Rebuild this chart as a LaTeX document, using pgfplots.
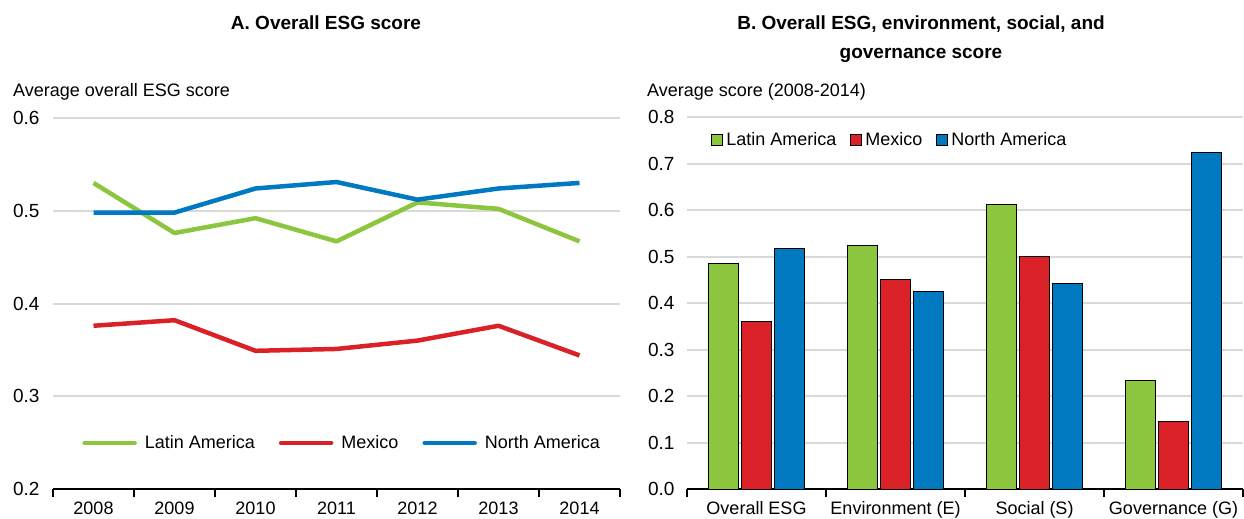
\documentclass[border=0pt]{standalone}
\usepackage{fontspec}
\setmainfont{Liberation Sans}
\usepackage{pgfplots}
\pgfplotsset{compat=1.18}
\definecolor{cgreen}{HTML}{8CC63F}
\definecolor{cred}{HTML}{DA2128}
\definecolor{cblue}{HTML}{0079C1}
\definecolor{cgrid}{HTML}{D9D9D9}
\pgfplotsset{
  sqlegend/.style={legend image code/.code={\draw[##1,/tikz/.cd,draw=black,line width=1pt] (0pt,-5.5pt) rectangle (11pt,5.5pt);}},
}
\begin{document}
\begin{tikzpicture}
\path[use as bounding box] (0,0) rectangle (1244pt,-519pt);
% Panel A
\begin{axis}[
  at={(53pt,-489pt)}, anchor=south west,
  scale only axis, width=567pt, height=371pt,
  xmin=-0.5, xmax=6.5, ymin=0.2, ymax=0.6,
  axis x line*=bottom, axis y line*=left,
  y axis line style={draw=none},
  x axis line style={black, line width=2pt, -},
  xtick={0,1,2,3,4,5,6}, xticklabels={2008,2009,2010,2011,2012,2013,2014},
  minor xtick={-0.5,0.5,1.5,2.5,3.5,4.5,5.5,6.5},
  minor x tick style={black, line width=2pt},
  major tick length=0pt, minor tick length=8pt,
  tick align=outside,
  ytick={0.2,0.3,0.4,0.5,0.6},
  ymajorgrids, major grid style={cgrid, line width=2pt},
  xticklabel style={font=\fontsize{18}{20}\selectfont, yshift=-9pt},
  yticklabel style={font=\fontsize{19}{21}\selectfont, xshift=-10pt, /pgf/number format/.cd, fixed, fixed zerofill, precision=1, assume math mode=true},
  legend style={at={(0.51,0.124)}, anchor=center, draw=none, fill=none, legend columns=3,
    font=\fontsize{18}{20}\selectfont, /tikz/every even column/.append style={column sep=22pt},
    /tikz/every odd column/.append style={column sep=6pt}},
  legend image code/.code={\draw[#1, line cap=round] (-4pt,0pt) -- (46pt,0pt);},
  clip=false,
]
\addplot[cgreen, line width=4.5pt, line join=round] coordinates {(0,0.530) (1,0.476) (2,0.492) (3,0.467) (4,0.509) (5,0.502) (6,0.467)};
\addlegendentry{Latin America}
\addplot[cred, line width=4.5pt, line join=round] coordinates {(0,0.376) (1,0.382) (2,0.349) (3,0.351) (4,0.360) (5,0.376) (6,0.344)};
\addlegendentry{Mexico}
\addplot[cblue, line width=4.5pt, line join=round] coordinates {(0,0.498) (1,0.498) (2,0.524) (3,0.531) (4,0.512) (5,0.524) (6,0.530)};
\addlegendentry{North America}
\end{axis}
% Panel B
\begin{axis}[
  at={(687pt,-489pt)}, anchor=south west,
  scale only axis, width=556pt, height=372pt,
  xmin=-0.5, xmax=3.5, ymin=0, ymax=0.8,
  ybar=3.3pt, bar width=30pt,
  axis x line*=bottom, axis y line*=left,
  y axis line style={draw=none},
  x axis line style={black, line width=2pt, -},
  xtick={0,1,2,3}, xticklabels={Overall ESG, Environment (E), Social (S), Governance (G)},
  minor xtick={-0.5,0.5,1.5,2.5,3.5},
  minor x tick style={black, line width=2pt},
  major tick length=0pt, minor tick length=8pt,
  tick align=outside,
  ytick={0,0.1,0.2,0.3,0.4,0.5,0.6,0.7,0.8},
  ymajorgrids, major grid style={cgrid, line width=2pt},
  xticklabel style={font=\fontsize{18}{20}\selectfont, yshift=-9pt},
  yticklabel style={font=\fontsize{19}{21}\selectfont, xshift=-9pt, /pgf/number format/.cd, fixed, fixed zerofill, precision=1, assume math mode=true},
  legend style={at={(0.365,0.938)}, anchor=center, draw=none, fill=none, legend columns=3,
    font=\fontsize{18}{20}\selectfont, /tikz/every even column/.append style={column sep=12pt},
    /tikz/every odd column/.append style={column sep=1pt}},
  clip=false,
]
\addplot[fill=cgreen, draw=black, line width=1pt, sqlegend] coordinates {(0,0.486) (1,0.524) (2,0.611) (3,0.234)};
\addlegendentry{Latin America}
\addplot[fill=cred, draw=black, line width=1pt, sqlegend] coordinates {(0,0.360) (1,0.451) (2,0.499) (3,0.145)};
\addlegendentry{Mexico}
\addplot[fill=cblue, draw=black, line width=1pt, sqlegend] coordinates {(0,0.518) (1,0.425) (2,0.441) (3,0.723)};
\addlegendentry{North America}
\end{axis}
% Titles and unit labels
\node[font=\bfseries\fontsize{19}{22}\selectfont] at (326pt,-23pt) {A. Overall ESG score};
\node[font=\bfseries\fontsize{19}{29}\selectfont, align=center] at (921pt,-39pt) {B. Overall ESG, environment, social, and\\governance score};
\node[anchor=base west, inner sep=0pt, font=\fontsize{18}{20}\selectfont] at (13pt,-96pt) {Average overall ESG score};
\node[anchor=base west, inner sep=0pt, font=\fontsize{18}{20}\selectfont] at (647pt,-96pt) {Average score (2008-2014)};
\end{tikzpicture}
\end{document}
